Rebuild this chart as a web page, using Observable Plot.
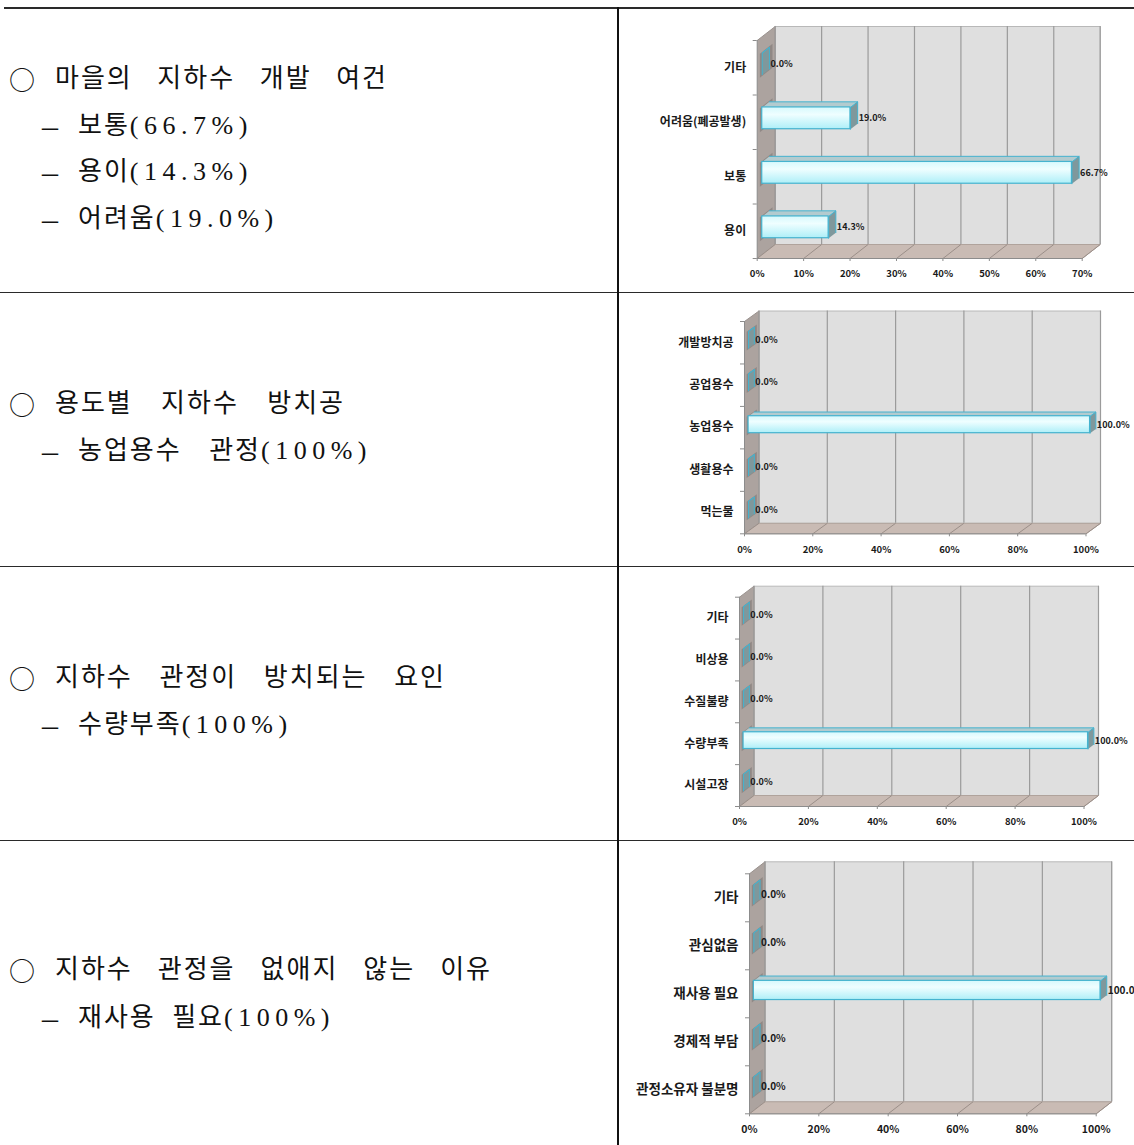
<!DOCTYPE html>
<html><head><meta charset="utf-8">
<script src="https://cdn.jsdelivr.net/npm/d3@7"></script>
<script src="https://cdn.jsdelivr.net/npm/@observablehq/plot@0.6"></script>
<style>
html,body{margin:0;padding:0;background:#fff;}
body{width:1134px;height:1145px;overflow:hidden;position:relative;}
.hl{position:absolute;background:#2a2a2a;}
.txt{position:absolute;white-space:pre;font-family:"Liberation Serif","Noto Sans CJK KR",serif;font-size:26px;line-height:30px;height:30px;color:#111;letter-spacing:2px;}
.txt .lat{letter-spacing:5.5px;}
.bul{position:absolute;white-space:pre;line-height:30px;height:30px;color:#111;}
.chart{position:absolute;}
</style></head>
<body>
<script>
// ---------- data ----------
const devCategories = ["용이", "보통", "어려움(폐공발생)", "기타"];          // bottom → top
const devValues     = [14.3, 66.7, 19.0, 0.0];
const devTicks      = [0, 10, 20, 30, 40, 50, 60, 70];

const useCategories = ["먹는물", "생활용수", "농업용수", "공업용수", "개발방치공"];
const useValues     = [0.0, 0.0, 100.0, 0.0, 0.0];

const causeCategories = ["시설고장", "수량부족", "수질불량", "비상용", "기타"];
const causeValues     = [0.0, 100.0, 0.0, 0.0, 0.0];

const keepCategories = ["관정소유자 불분명", "경제적 부담", "재사용 필요", "관심없음", "기타"];
const keepValues     = [0.0, 0.0, 100.0, 0.0, 0.0];

const pctTicks = [0, 20, 40, 60, 80, 100];

const leftHeads   = ["○ 마을의 지하수 개발 여건", "○ 용도별 지하수 방치공", "○ 지하수 관정이 방치되는 요인", "○ 지하수 관정을 없애지 않는 이유"];
const leftDetails = [["– 보통(66.7%)", "– 용이(14.3%)", "– 어려움(19.0%)"], ["– 농업용수 관정(100%)"], ["– 수량부족(100%)"], ["– 재사용 필요(100%)"]];

// ---------- layout ----------
const hLines = [[4, 7, 1130, 2], [0, 291.5, 1134, 1.5], [0, 565.5, 1134, 1.5], [0, 839.5, 1134, 1.5]];
const vLine = [616.5, 7, 2, 1138];
// per block: head [centerY, textLeft, textRight], details [[centerY, textLeft, textRight], ...]
const textLayout = [
  {head: [80, 55, 388], det: [[127, 78, 248], [173, 78, 236], [220, 78, 278]]},
  {head: [405, 55, 345], det: [[452, 78, 372]]},
  {head: [679, 55, 446], det: [[726, 78, 302]]},
  {head: [971, 55, 492], det: [[1019, 78, 335]]}
];
const chartBoxes = [
  {left: 620, top: 10,  w: 514, h: 280, ml: 136.7, mr: 52.3, mt: 30,   mb: 32,   depth: [18, 14],   fs: {cat: 12,   tick: 9.5,  val: 9}},
  {left: 620, top: 295, w: 514, h: 268, ml: 124,   mr: 48.5, mt: 26,   mb: 29.7, depth: [14.5, 10.5], fs: {cat: 12, tick: 9.5,  val: 9}},
  {left: 620, top: 569, w: 514, h: 268, ml: 119,   mr: 50.5, mt: 27.7, mb: 31,   depth: [14.5, 11], fs: {cat: 12,   tick: 9.5,  val: 9}},
  {left: 620, top: 843, w: 514, h: 302, ml: 129,   mr: 38.3, mt: 30.3, mb: 31.7, depth: [15.5, 12], fs: {cat: 13.5, tick: 10.5, val: 10}}
];

// ---------- table lines ----------
for (const [x, y, w, h] of hLines) {
  const d = document.createElement("div"); d.className = "hl";
  Object.assign(d.style, {left: x + "px", top: y + "px", width: w + "px", height: h + "px"});
  document.body.appendChild(d);
}
{
  const d = document.createElement("div"); d.className = "hl";
  Object.assign(d.style, {left: vLine[0] + "px", top: vLine[1] + "px", width: vLine[2] + "px", height: vLine[3] + "px", background: "#111"});
  document.body.appendChild(d);
}

// ---------- left text ----------
function placeLine(str, cy, x0, x1, bulletX) {
  const bullet = str[0];
  const rest = str.slice(1).trim();
  const b = document.createElement("div");
  b.className = "bul";
  if (bullet === "○") { b.style.fontFamily = '"Noto Sans CJK KR"'; b.style.fontSize = "26px"; }
  else { b.style.fontFamily = '"Liberation Serif"'; b.style.fontSize = "32px"; }
  b.textContent = bullet;
  b.style.left = bulletX + "px";
  b.style.top = (cy - 16) + "px";
  document.body.appendChild(b);
  const t = document.createElement("div");
  t.className = "txt";
  // split Latin parenthetical so it can be spaced like the original
  const k = rest.indexOf("(");
  if (k >= 0) {
    t.appendChild(document.createTextNode(rest.slice(0, k)));
    const sp = document.createElement("span"); sp.className = "lat"; sp.textContent = rest.slice(k);
    t.appendChild(sp);
  } else t.textContent = rest;
  t.style.left = x0 + "px";
  t.style.top = (cy - 16) + "px";
  document.body.appendChild(t);
  const nSpaces = (rest.match(/ /g) || []).length;
  if (nSpaces > 0) {
    const w = t.getBoundingClientRect().width;
    t.style.wordSpacing = ((x1 - x0 - w) / nSpaces) + "px";
  }
}
leftHeads.forEach((h, k) => {
  const L = textLayout[k];
  placeLine(h, L.head[0], L.head[1], L.head[2], 9);
  leftDetails[k].forEach((s, j) => {
    const [cy, a, b] = L.det[j];
    placeLine(s, cy, a, b, 42);
  });
});

// ---------- 3D bar charts ----------
function bar3d(cats, vals, ticks, box, gid) {
  const n = cats.length;
  const xMax = ticks[ticks.length - 1];
  const pw = box.w - box.ml - box.mr, ph = box.h - box.mt - box.mb;
  const DX = box.depth[0] * xMax / pw, DY = box.depth[1] * n / ph;
  const s = 0.28, e = 0.68, half = 0.2;
  const bx = (e - s) * DX, by = (e - s) * DY;
  const rows = cats.map((c, i) => ({cat: c, v: vals[i], i}));
  const poly = (pts, id) => pts.map(([x, y]) => ({x, y, id}));
  const backWall = poly([[DX, DY], [xMax + DX, DY], [xMax + DX, n + DY], [DX, n + DY]], 0);
  const leftWall = poly([[0, 0], [DX, DY], [DX, n + DY], [0, n]], 0);
  const floor = poly([[0, 0], [xMax, 0], [xMax + DX, DY], [DX, DY]], 0);
  const shadows = rows.flatMap(r => {
    const yc = r.i + 0.5;
    return poly([[0.15 * DX, yc - 0.22 + 0.15 * DY], [0.85 * DX, yc - 0.22 + 0.85 * DY], [0.85 * DX, yc + 0.22 + 0.85 * DY], [0.15 * DX, yc + 0.22 + 0.15 * DY]], r.i);
  });
  const tops = rows.flatMap(r => {
    const x0 = s * DX, x1 = r.v + s * DX, y = r.i + 0.5 + half + s * DY;
    return poly([[x0, y], [x1, y], [x1 + bx, y + by], [x0 + bx, y + by]], r.i);
  });
  const ends = rows.flatMap(r => {
    const x1 = r.v + s * DX, yt = r.i + 0.5 + half + s * DY, yb = r.i + 0.5 - half + s * DY;
    return poly([[x1, yb], [x1, yt], [x1 + bx, yt + by], [x1 + bx, yb + by]], r.i);
  });
  const P = {x: "x", y: "y", z: "id"};
  const svg = Plot.plot({
    width: box.w, height: box.h,
    marginLeft: box.ml, marginRight: box.mr, marginTop: box.mt, marginBottom: box.mb,
    x: {domain: [0, xMax], label: null},
    y: {domain: [0, n], label: null},
    style: {background: "transparent", overflow: "visible", fontFamily: '"Noto Sans CJK KR", sans-serif', color: "#1a1a1a"},
    marks: [
      Plot.line(backWall, {...P, fill: "#dfdfdf", stroke: "#b8b8b8", strokeWidth: 1}),
      Plot.line(leftWall, {...P, fill: "#aca39f", stroke: "#9a928e", strokeWidth: 1}),
      Plot.line(floor, {...P, fill: "#c9bbb4", stroke: "#b0a39c", strokeWidth: 1}),
      Plot.line(shadows, {...P, fill: "#6e6866", stroke: "none", fillOpacity: 0.45}),
      Plot.ruleX(ticks, {x: d => d + DX, y1: DY, y2: n + DY, stroke: "#9b9b9b", strokeWidth: 1.2}),
      Plot.link(ticks, {x1: d => d, y1: 0, x2: d => d + DX, y2: DY, stroke: "#9b8f89", strokeWidth: 1}),
      Plot.ruleX([0], {y1: 0, y2: n, stroke: "#8c8c8c", strokeWidth: 1}),
      Plot.ruleY([0], {x1: 0, x2: xMax, stroke: "#8c8c8c", strokeWidth: 1}),
      Plot.axisX({ticks, tickFormat: d => d + "%", tickSize: 3, tickPadding: 9, fontSize: box.fs.tick, fontWeight: "bold", stroke: "#8c8c8c"}),
      Plot.axisY({ticks: d3.range(n + 1), tickFormat: () => "", tickSize: 4, stroke: "#8c8c8c"}),
      Plot.text(rows, {x: 0, y: r => r.i + 0.5, text: "cat", textAnchor: "end", dx: -11, fontSize: box.fs.cat, fontWeight: "bold", fill: "#1a1a1a"}),
      Plot.line(ends, {...P, fill: "#7f989c", stroke: "#45b3cf", strokeWidth: 1}),
      Plot.line(tops, {...P, fill: "#b3cbcf", stroke: "#45b3cf", strokeWidth: 1}),
      Plot.rect(rows, {x1: s * DX, x2: r => r.v + s * DX, y1: r => r.i + 0.5 - half + s * DY, y2: r => r.i + 0.5 + half + s * DY, fill: `url(#${gid})`, stroke: "#45b3cf", strokeWidth: 1.2}),
      Plot.text(rows, {x: r => r.v + e * DX, y: r => r.i + 0.5 + s * DY, text: r => r.v.toFixed(1) + "%", textAnchor: "start", dx: 1, fontSize: box.fs.val, fontWeight: "bold", fill: "#1a1a1a"})
    ]
  });
  const defs = d3.select(svg).insert("defs", ":first-child");
  const g = defs.append("linearGradient").attr("id", gid).attr("x1", 0).attr("y1", 0).attr("x2", 0).attr("y2", 1);
  g.append("stop").attr("offset", "0%").attr("stop-color", "#d6f9fd");
  g.append("stop").attr("offset", "35%").attr("stop-color", "#effeff");
  g.append("stop").attr("offset", "100%").attr("stop-color", "#aeeff8");
  const wrap = document.createElement("div");
  wrap.className = "chart";
  Object.assign(wrap.style, {left: box.left + "px", top: box.top + "px", width: box.w + "px", height: box.h + "px"});
  wrap.appendChild(svg);
  document.body.appendChild(wrap);
}

bar3d(devCategories, devValues, devTicks, chartBoxes[0], "grad1");
bar3d(useCategories, useValues, pctTicks, chartBoxes[1], "grad2");
bar3d(causeCategories, causeValues, pctTicks, chartBoxes[2], "grad3");
bar3d(keepCategories, keepValues, pctTicks, chartBoxes[3], "grad4");
</script>
</body></html>
